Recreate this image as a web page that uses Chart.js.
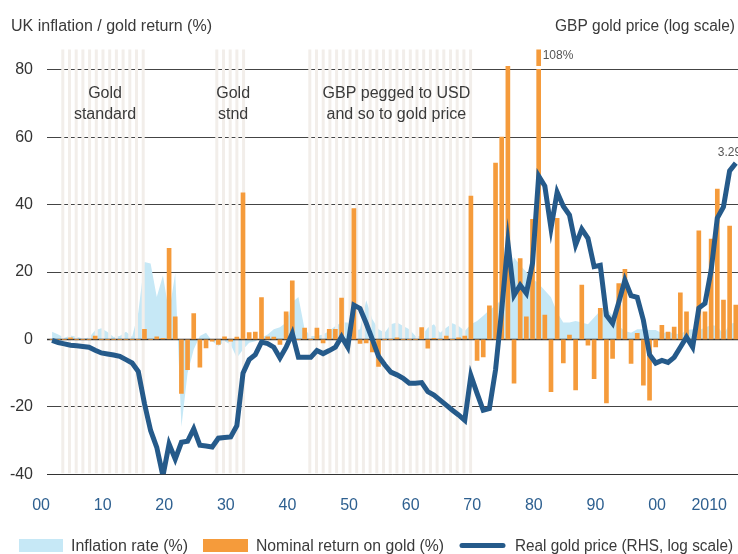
<!DOCTYPE html>
<html>
<head>
<meta charset="utf-8">
<title>UK inflation and gold</title>
<script src="https://cdn.jsdelivr.net/npm/chart.js@4.4.1/dist/chart.umd.min.js"></script>
<style>
  html, body { margin: 0; padding: 0; background: #fff; }
  #wrap { width: 738px; height: 554px; position: relative; }
</style>
</head>
<body>
<div id="wrap"><canvas id="goldChart" width="738" height="554"></canvas></div>
<script>
// ---- data ----
const years = [];
for (let y = 1900; y <= 2011; y++) years.push(y);

// UK inflation rate (%), 1900-2011
const inflation = [
  2.3, 1.5, 0.5, 1.2, 0.8, 0.3, 0.6, 2.7, 3.3, 2.2,          // 1900s
  0.7, 1.0, 2.3, 0.8, 8.0, 23.0, 22.5, 12.6, 19.0, 8.0,      // 1910s
  19.6, -26.0, -10.0, -3.0, 1.0, 2.0, -0.5, -2.0, -0.5, -1.5, // 1920s
  -5.5, -3.0, -1.0, -0.5, 0.5, 1.5, 3.0, 3.6, 5.0, 11.0,     // 1930s
  12.6, 3.0, 1.0, 1.0, 1.5, 2.5, 4.0, 5.0, 5.0, 2.5,         // 1940s
  3.0, 11.6, 6.0, 3.0, 2.0, 4.5, 5.0, 4.0, 3.0, 1.0,         // 1950s
  1.0, 3.5, 4.5, 2.0, 3.5, 4.8, 4.0, 2.5, 4.5, 5.5,          // 1960s
  7.0, 8.7, 10.0, 12.0, 16.0, 24.3, 22.0, 20.0, 18.0, 16.5,  // 1970s
  14.5, 12.5, 8.0, 5.0, 5.0, 5.5, 5.0, 4.5, 6.5, 8.5,        // 1980s
  9.2, 7.0, 4.0, 2.5, 2.0, 3.0, 3.0, 2.8, 2.8, 1.8,          // 1990s
  2.2, 1.8, 1.5, 2.8, 3.0, 2.8, 3.5, 4.3, 4.0, 1.5,          // 2000s
  4.6, 5.0                                                   // 2010s
];

// Nominal return on gold in GBP (%), 1900-2011
const goldReturn = [
  0, 0, 0, 0.5, 0, 0, 0, 1.0, 0, 0,
  0, 0, 0, 0, 0, 3.0, 0, 0.8, 0.3, 27.0,
  6.7, -16.0, -9.0, 7.7, -8.2, -2.5, -0.5, -1.5, 0.8, -0.5,
  0.7, 43.5, 2.0, 2.2, 12.4, 0.8, 0.7, -1.5, 8.2, 17.4,
  0, 3.4, 0, 3.4, -1.0, 3.0, 3.0, 12.3, -2.5, 38.8,
  -1.2, -1.0, -3.7, -8.0, 0, 0, 0.5, 0, 0, 0,
  3.5, -2.6, 0.3, 0, 1.0, 0, 0.5, 1.0, 42.5, -6.2,
  -5.2, 10.0, 52.3, 60.0, 81.0, -13.0, 24.0, 6.7, 35.6, 108.0,
  7.2, -15.5, 35.9, -7.0, 1.3, -15.0, 16.1, -1.7, -11.6, 9.2,
  -18.8, -5.6, 16.6, 20.8, -7.1, 1.8, -13.6, -18.0, -2.2, 4.2,
  2.2, 3.7, 13.8, 8.2, -1.0, 32.2, 8.2, 29.8, 44.6, 11.7,
  33.6, 10.2
];

// Real gold price, log scale, drawn in left-axis units
const realGold = [
  -0.3, -0.9, -1.3, -1.7, -1.9, -2.1, -2.3, -3.2, -4.0, -4.3,
  -4.6, -5.0, -6.0, -7.0, -9.5, -19.0, -27.0, -32.0, -40.5, -31.0,
  -35.5, -30.5, -30.2, -26.5, -31.4, -31.6, -31.9, -29.3, -29.1, -28.9,
  -25.6, -10.0, -6.0, -4.5, -0.8, -1.2, -2.3, -5.5, -2.3, 1.8,
  -5.3, -5.3, -5.3, -3.3, -4.2, -3.3, -2.3, 0.8, -2.3, 10.2,
  9.2, 4.8, 0, -5.0, -7.5, -9.7, -10.5, -11.5, -13.0, -13.0,
  -12.8, -15.5, -16.5, -18.0, -19.5, -21.0, -22.4, -24.0, -10.7, -16.0,
  -21.0, -20.5, -9.0, 8.7, 28.8, 13.1, 16.1, 13.7, 22.6, 48.5,
  45.5, 33.0, 43.7, 39.5, 36.9, 28.0, 32.7, 30.0, 21.6, 22.0,
  7.2, 4.8, 11.0, 17.6, 13.0, 12.5, 5.7, -4.5, -7.0, -6.2,
  -6.8, -5.3, -2.3, 0.7, -2.3, 9.3, 10.7, 20.5, 36.0, 39.3,
  50.0, 52.3
];

const yTicks = [-40, -20, 0, 20, 40, 60, 80];
const xTickYears = [1900, 1910, 1920, 1930, 1940, 1950, 1960, 1970, 1980, 1990, 2000, 2010];
const xTickLabels = ['00', '10', '20', '30', '40', '50', '60', '70', '80', '90', '00', '2010'];

// periods with the fixed gold link (shaded stripes)
const goldSpans = [[1901.5, 1914.6], [1926.5, 1931.8], [1941.6, 1968.7]];
const spanNotes = [
  { year: 1908.6, lines: ['Gold', 'standard'] },
  { year: 1929.4, lines: ['Gold', 'stnd'] },
  { year: 1955.9, lines: ['GBP pegged to USD', 'and so to gold price'] }
];

// ---- styling ----
const FONT = "'Liberation Sans', Arial, sans-serif";
const TEXT = '#3a3a3a';
const C_INFL = '#c6e8f6';
const C_GOLD = '#f59b3b';
const C_LINE = '#255a8a';
const C_STRIPE = '#f2eeea';
const C_XTICK = '#2e6090';

const pts = arr => years.map((y, i) => ({ x: y, y: arr[i] }));

const overlay = {
  id: 'overlay',
  afterDatasetDraw(chart, args) {
    if (args.index !== 2) return;
    // stripes go over the inflation area, under the bars
    const { ctx, chartArea: a, scales: { x, y } } = chart;
    ctx.save();
    ctx.fillStyle = C_STRIPE;
    goldSpans.forEach(([s, e]) => {
      const x0 = x.getPixelForValue(s), x1 = x.getPixelForValue(e);
      for (let px = x0; px < x1; px += 6.7) {
        ctx.fillRect(px, a.top, 3, a.bottom - a.top - 1);
      }
    });
    ctx.strokeStyle = '#333';
    ctx.lineWidth = 1.5;
    ctx.beginPath();
    const y0 = Math.round(y.getPixelForValue(0)) + 0.5;
    ctx.moveTo(a.left, y0); ctx.lineTo(a.right, y0);
    ctx.stroke();
    ctx.lineWidth = 1;
    ctx.beginPath();
    const yb = Math.round(y.getPixelForValue(-40)) + 0.5;
    ctx.moveTo(a.left, yb); ctx.lineTo(a.right, yb);
    ctx.stroke();
    ctx.restore();
  },
  afterDatasetsDraw(chart) {
    const { ctx, scales: { x, y } } = chart;
    ctx.save();
    // break mark on the clipped 1979 bar
    const bx = x.getPixelForValue(1979);
    ctx.fillStyle = '#fff';
    ctx.fillRect(bx - 3, y.getPixelForValue(81.1), 6, 3);
    ctx.font = '12px ' + FONT;
    ctx.fillStyle = '#555';
    ctx.textBaseline = 'alphabetic';
    ctx.fillText('108%', bx + 4, y.getPixelForValue(83.2));
    ctx.fillText('3.29', x.getPixelForValue(2011) - 18, y.getPixelForValue(54.5));
    ctx.restore();
  },
  afterDraw(chart) {
    const { ctx, scales: { x } } = chart;
    ctx.save();
    ctx.font = '16px ' + FONT;
    ctx.fillStyle = TEXT;
    ctx.textBaseline = 'alphabetic';
    // axis titles
    ctx.textAlign = 'left';
    ctx.fillText('UK inflation / gold return (%)', 11, 30.5, 202);
    ctx.textAlign = 'right';
    ctx.fillText('GBP gold price (log scale)', 735, 30.5, 180);

    // notes over the stripes
    ctx.textAlign = 'center';
    spanNotes.forEach(n => {
      const cx = x.getPixelForValue(n.year);
      n.lines.forEach((t, i) => ctx.fillText(t, cx, 98 + i * 21));
    });

    // x tick labels
    ctx.fillStyle = C_XTICK;
    xTickYears.forEach((yr, i) => {
      const w = ctx.measureText(xTickLabels[i]).width;
      let cx = x.getPixelForValue(yr) - 11;
      cx = Math.min(cx, chart.width - 11 - w / 2);
      ctx.fillText(xTickLabels[i], cx, 509.5);
    });

    // legend
    ctx.textAlign = 'left';
    ctx.fillStyle = C_INFL;
    ctx.fillRect(19, 539, 44, 13);
    ctx.fillStyle = C_GOLD;
    ctx.fillRect(203, 539, 45, 13);
    ctx.strokeStyle = C_LINE;
    ctx.lineWidth = 5;
    ctx.lineCap = 'round';
    ctx.beginPath();
    ctx.moveTo(462, 545.5); ctx.lineTo(503, 545.5);
    ctx.stroke();
    ctx.fillStyle = TEXT;
    ctx.fillText('Inflation rate (%)', 71, 550.5, 117);
    ctx.fillText('Nominal return on gold (%)', 256, 550.5, 188);
    ctx.fillText('Real gold price (RHS, log scale)', 515, 550.5, 218);
    ctx.restore();
  }
};

const ctx = document.getElementById('goldChart').getContext('2d');
new Chart(ctx, {
  type: 'bar',
  data: {
    datasets: [
      {
        type: 'line',
        label: 'Real gold price (RHS, log scale)',
        data: pts(realGold),
        borderColor: C_LINE,
        borderWidth: 5,
        pointRadius: 0,
        tension: 0,
        fill: false,
        order: 1
      },
      {
        type: 'bar',
        label: 'Nominal return on gold (%)',
        data: pts(goldReturn),
        backgroundColor: C_GOLD,
        barThickness: 4,
        order: 2
      },
      {
        type: 'line',
        label: 'Inflation rate (%)',
        data: pts(inflation),
        backgroundColor: C_INFL,
        borderWidth: 0,
        pointRadius: 0,
        tension: 0,
        fill: 'origin',
        order: 3
      }
    ]
  },
  plugins: [overlay],
  options: {
    responsive: false,
    animation: false,
    events: [],
    layout: { padding: { top: 49.5, left: 0, right: 0, bottom: 0 } },
    plugins: { legend: { display: false }, tooltip: { enabled: false } },
    scales: {
      x: {
        type: 'linear',
        min: 1899.18,
        max: 2011.36,
        offset: false,
        grid: { display: false },
        border: { display: false },
        ticks: { display: false },
        afterFit: s => { s.height = 79.7; }
      },
      y: {
        min: -40,
        max: 86,
        grid: { color: '#444', lineWidth: 1, drawTicks: false },
        border: { display: false },
        ticks: {
          stepSize: 20,
          padding: 14,
          color: '#333',
          font: { family: FONT, size: 16 }
        },
        afterBuildTicks: s => { s.ticks = yTicks.map(v => ({ value: v })); },
        afterFit: s => { s.width = 47; }
      }
    }
  }
});
</script>
</body>
</html>
